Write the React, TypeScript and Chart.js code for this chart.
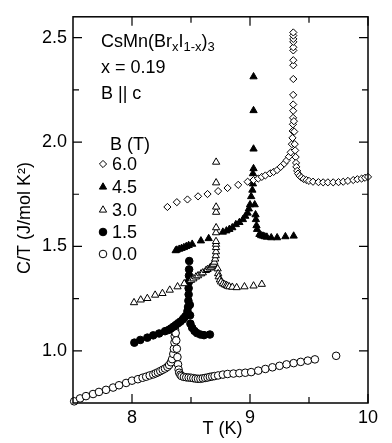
import React, { useEffect, useRef } from "react";
import { Chart, registerables } from "chart.js";

Chart.register(...registerables);

// ---- data: [T (K), C/T (J/mol K^2)] ----
const B60: [number, number][] = [
  [8.30, 1.689], [8.38, 1.712], [8.47, 1.725], [8.56, 1.74], [8.64, 1.751], [8.73, 1.765],
  [8.81, 1.78], [8.90, 1.795], [8.98, 1.81], [9.03, 1.818], [9.07, 1.825], [9.10, 1.833],
  [9.13, 1.84], [9.17, 1.85], [9.20, 1.857], [9.23, 1.866], [9.26, 1.881], [9.29, 1.897],
  [9.31, 1.912], [9.33, 1.93], [9.345, 1.951], [9.355, 1.99], [9.36, 2.02], [9.362, 2.053],
  [9.364, 2.085], [9.365, 2.116], [9.366, 2.15], [9.366, 2.18], [9.366, 2.226], [9.367, 2.302],
  [9.367, 2.368], [9.367, 2.392], [9.367, 2.439], [9.367, 2.454], [9.367, 2.48], [9.367, 2.494],
  [9.367, 2.51], [9.367, 2.525], [9.372, 2.10], [9.375, 2.05], [9.379, 1.99], [9.383, 1.96],
  [9.387, 1.928], [9.39, 1.90], [9.393, 1.881], [9.40, 1.862], [9.407, 1.849], [9.42, 1.838],
  [9.436, 1.83], [9.455, 1.823], [9.478, 1.818], [9.50, 1.814], [9.534, 1.81], [9.58, 1.808],
  [9.62, 1.807], [9.66, 1.807], [9.705, 1.807], [9.75, 1.808], [9.79, 1.81], [9.83, 1.814],
  [9.875, 1.818], [9.91, 1.822], [9.946, 1.825], [9.975, 1.829], [10.0, 1.833],
];

const B45: [number, number][] = [
  [8.37, 1.48], [8.38, 1.483], [8.40, 1.487], [8.42, 1.491], [8.44, 1.495], [8.46, 1.50],
  [8.48, 1.505], [8.51, 1.511], [8.584, 1.527], [8.65, 1.538], [8.77, 1.569], [8.80, 1.575],
  [8.825, 1.582], [8.85, 1.59], [8.88, 1.605], [8.91, 1.615], [8.94, 1.629], [8.96, 1.645],
  [8.98, 1.66], [8.99, 1.68], [9.0, 1.70], [9.01, 1.739], [9.02, 1.77], [9.025, 1.80],
  [9.025, 1.849], [9.03, 1.873], [9.03, 1.967], [9.03, 2.151], [9.03, 2.313], [9.04, 1.70],
  [9.047, 1.652], [9.05, 1.629], [9.055, 1.60], [9.06, 1.582], [9.08, 1.558], [9.095, 1.552],
  [9.11, 1.55], [9.125, 1.547], [9.143, 1.545], [9.18, 1.542], [9.23, 1.542], [9.30, 1.547],
  [9.37, 1.55],
];

const B30: [number, number][] = [
  [8.017, 1.231], [8.074, 1.244], [8.13, 1.251], [8.196, 1.267], [8.258, 1.275], [8.32, 1.291],
  [8.386, 1.307], [8.443, 1.322], [8.50, 1.338], [8.52, 1.345], [8.542, 1.354], [8.56, 1.36],
  [8.585, 1.369], [8.60, 1.374], [8.627, 1.385], [8.64, 1.39], [8.66, 1.397], [8.67, 1.401],
  [8.68, 1.408], [8.69, 1.415], [8.698, 1.425], [8.705, 1.44], [8.71, 1.456], [8.712, 1.475],
  [8.712, 1.495], [8.712, 1.511], [8.712, 1.524], [8.712, 1.566], [8.713, 1.59], [8.713, 1.664],
  [8.713, 1.689], [8.713, 1.805], [8.713, 1.904], [8.726, 1.393], [8.73, 1.37], [8.735, 1.355],
  [8.745, 1.34], [8.755, 1.33], [8.77, 1.322], [8.785, 1.317], [8.80, 1.314], [8.81, 1.31],
  [8.825, 1.307], [8.85, 1.305], [8.887, 1.303], [8.953, 1.307], [9.03, 1.311], [9.10, 1.319],
];

const B15: [number, number][] = [
  [8.02, 1.039], [8.07, 1.052], [8.13, 1.063], [8.18, 1.074], [8.23, 1.083], [8.28, 1.094],
  [8.31, 1.10], [8.33, 1.107], [8.35, 1.115], [8.37, 1.123], [8.39, 1.132], [8.41, 1.14],
  [8.43, 1.15], [8.44, 1.157], [8.455, 1.167], [8.47, 1.19], [8.475, 1.21], [8.478, 1.24],
  [8.48, 1.27], [8.48, 1.30], [8.482, 1.33], [8.483, 1.36], [8.484, 1.39], [8.485, 1.43],
  [8.49, 1.22], [8.492, 1.17], [8.495, 1.13], [8.51, 1.11], [8.53, 1.095], [8.55, 1.085],
  [8.58, 1.078], [8.61, 1.075], [8.66, 1.078],
];

const B00: [number, number][] = [
  [7.51, 0.758], [7.56, 0.772], [7.61, 0.783], [7.67, 0.793], [7.72, 0.803], [7.78, 0.813],
  [7.84, 0.824], [7.89, 0.835], [7.95, 0.846], [8.00, 0.857], [8.05, 0.864], [8.09, 0.871],
  [8.12, 0.876], [8.15, 0.882], [8.18, 0.887], [8.20, 0.892], [8.22, 0.897], [8.24, 0.903],
  [8.26, 0.909], [8.28, 0.915], [8.30, 0.923], [8.315, 0.932], [8.33, 0.945], [8.34, 0.96],
  [8.35, 0.985], [8.355, 1.01], [8.36, 1.04], [8.362, 1.07], [8.365, 1.10], [8.37, 1.085],
  [8.375, 1.05], [8.38, 1.01], [8.385, 0.97], [8.39, 0.935], [8.395, 0.91], [8.40, 0.895],
  [8.41, 0.885], [8.42, 0.879], [8.44, 0.875], [8.46, 0.873], [8.48, 0.872], [8.50, 0.871],
  [8.52, 0.869], [8.54, 0.867], [8.56, 0.866], [8.58, 0.866], [8.60, 0.868], [8.62, 0.87],
  [8.64, 0.872], [8.66, 0.875], [8.68, 0.877], [8.70, 0.879], [8.73, 0.882], [8.77, 0.886],
  [8.81, 0.889], [8.86, 0.891], [8.91, 0.893], [8.96, 0.895], [9.01, 0.898], [9.07, 0.905],
  [9.13, 0.913], [9.19, 0.921], [9.25, 0.928], [9.31, 0.935], [9.37, 0.941], [9.43, 0.947],
  [9.49, 0.953], [9.55, 0.959], [9.73, 0.976],
];

const FIELD_LABELS = ["6.0", "4.5", "3.0", "1.5", "0.0"];
const X_TICKS = [8, 9, 10];
const X_MINOR = [8.5, 9.5];
const Y_TICKS = [1.0, 1.5, 2.0, 2.5];
const Y_MINOR = [1.25, 1.75, 2.25];

const FONT = "'Liberation Sans', Arial, Helvetica, sans-serif";

type Marker = { style: string; filled: boolean; r: number };
const MARKERS: Marker[] = [
  { style: "rectRot", filled: false, r: 3.6 },
  { style: "triangle", filled: true, r: 4.2 },
  { style: "triangle", filled: false, r: 4.2 },
  { style: "circle", filled: true, r: 3.8 },
  { style: "circle", filled: false, r: 3.8 },
];

function drawMarker(ctx: CanvasRenderingContext2D, m: Marker, x: number, y: number) {
  ctx.save();
  ctx.beginPath();
  const r = m.r;
  if (m.style === "circle") {
    ctx.arc(x, y, r, 0, Math.PI * 2);
  } else if (m.style === "triangle") {
    ctx.moveTo(x, y - r);
    ctx.lineTo(x + Math.sin(2.0944) * r, y - Math.cos(2.0944) * r);
    ctx.lineTo(x + Math.sin(-2.0944) * r, y - Math.cos(-2.0944) * r);
    ctx.closePath();
  } else {
    ctx.moveTo(x, y - r);
    ctx.lineTo(x + r, y);
    ctx.lineTo(x, y + r);
    ctx.lineTo(x - r, y);
    ctx.closePath();
  }
  ctx.fillStyle = m.filled ? "#000" : "#fff";
  ctx.fill();
  ctx.lineWidth = 1;
  ctx.strokeStyle = "#000";
  ctx.stroke();
  ctx.restore();
}

const decorPlugin = {
  id: "decor",
  afterDraw(chart: any) {
    const ctx: CanvasRenderingContext2D = chart.ctx;
    const { left, right, top, bottom } = chart.chartArea;
    const xs = chart.scales.x;
    const ys = chart.scales.y;
    ctx.save();
    ctx.strokeStyle = "#000";
    ctx.lineWidth = 1.5;
    ctx.strokeRect(left, top, right - left, bottom - top);
    ctx.lineWidth = 1.2;
    const tick = (vals: number[], len: number) => {
      vals.forEach((v) => {
        const px = xs.getPixelForValue(v);
        ctx.beginPath();
        ctx.moveTo(px, bottom); ctx.lineTo(px, bottom - len);
        ctx.moveTo(px, top); ctx.lineTo(px, top + len);
        ctx.stroke();
      });
    };
    const ytick = (vals: number[], len: number) => {
      vals.forEach((v) => {
        const py = ys.getPixelForValue(v);
        ctx.beginPath();
        ctx.moveTo(left, py); ctx.lineTo(left + len, py);
        ctx.moveTo(right, py); ctx.lineTo(right - len, py);
        ctx.stroke();
      });
    };
    tick(X_TICKS, 9); tick(X_MINOR, 6);
    ytick(Y_TICKS, 9); ytick(Y_MINOR, 6);

    // axis titles
    ctx.fillStyle = "#000";
    ctx.font = `18px ${FONT}`;
    ctx.textAlign = "center";
    ctx.textBaseline = "middle";
    ctx.fillText("T (K)", (left + right) / 2 + 2, 429);
    ctx.save();
    ctx.translate(25, (top + bottom) / 2 + 8);
    ctx.rotate(-Math.PI / 2);
    ctx.fillText("C/T (J/mol K\u00B2)", 0, 0);
    ctx.restore();

    // annotation text
    ctx.textAlign = "left";
    ctx.textBaseline = "alphabetic";
    const big = `18px ${FONT}`;
    const small = `13px ${FONT}`;
    const parts: [string, boolean][] = [
      ["CsMn(Br", false], ["x", true], ["I", false], ["1-x", true], [")", false], ["3", true],
    ];
    let cx = 101;
    const by = 47;
    parts.forEach(([s, sub]) => {
      ctx.font = sub ? small : big;
      ctx.fillText(s, cx, sub ? by + 4 : by);
      cx += ctx.measureText(s).width;
    });
    ctx.font = big;
    ctx.fillText("x = 0.19", 101, 73);
    ctx.fillText("B || c", 101, 99);
    ctx.fillText("B (T)", 110, 150);
    const rowY = [170, 193, 216, 238, 260];
    FIELD_LABELS.forEach((lab, i) => {
      ctx.font = big;
      ctx.fillText(lab, 112, rowY[i]);
      drawMarker(ctx, MARKERS[i], 103, rowY[i] - 6);
    });
    ctx.restore();
  },
};

export default function App() {
  const ref = useRef<HTMLCanvasElement | null>(null);
  useEffect(() => {
    document.body.style.margin = "0";
    if (!ref.current) return;
    const series = [B60, B45, B30, B15, B00];
    const chart = new Chart(ref.current, {
      type: "scatter",
      data: {
        datasets: series.map((s, i) => ({
          label: FIELD_LABELS[i],
          data: s.map(([x, y]) => ({ x, y })),
          pointStyle: MARKERS[i].style as any,
          pointRadius: MARKERS[i].r,
          pointBackgroundColor: MARKERS[i].filled ? "#000" : "#fff",
          pointBorderColor: "#000",
          pointBorderWidth: 1,
          showLine: false,
          clip: 10,
        })),
      },
      options: {
        responsive: false,
        animation: false,
        devicePixelRatio: 1,
        layout: { padding: { left: 0, right: 24, top: 11, bottom: 0 } },
        plugins: { legend: { display: false }, tooltip: { enabled: false } },
        scales: {
          x: {
            type: "linear",
            min: 7.5,
            max: 10,
            grid: { display: false, drawTicks: false },
            border: { display: false },
            afterFit: (s: any) => { s.height = 40; },
            afterBuildTicks: (s: any) => { s.ticks = X_TICKS.map((v) => ({ value: v })); },
            ticks: {
              padding: 4,
              color: "#000",
              font: { family: FONT, size: 18 },
              callback: (v: any) => String(v),
              maxRotation: 0,
            },
          },
          y: {
            type: "linear",
            min: 0.75,
            max: 2.6,
            grid: { display: false, drawTicks: false },
            border: { display: false },
            afterFit: (s: any) => { s.width = 73; },
            afterBuildTicks: (s: any) => { s.ticks = Y_TICKS.map((v) => ({ value: v })); },
            ticks: {
              padding: 6,
              color: "#000",
              font: { family: FONT, size: 18 },
              callback: (v: any) => Number(v).toFixed(1),
            },
          },
        },
      },
      plugins: [decorPlugin],
    });
    return () => chart.destroy();
  }, []);
  return (
    <div style={{ width: 392, height: 443 }}>
      <canvas ref={ref} width={392} height={443} />
    </div>
  );
}
